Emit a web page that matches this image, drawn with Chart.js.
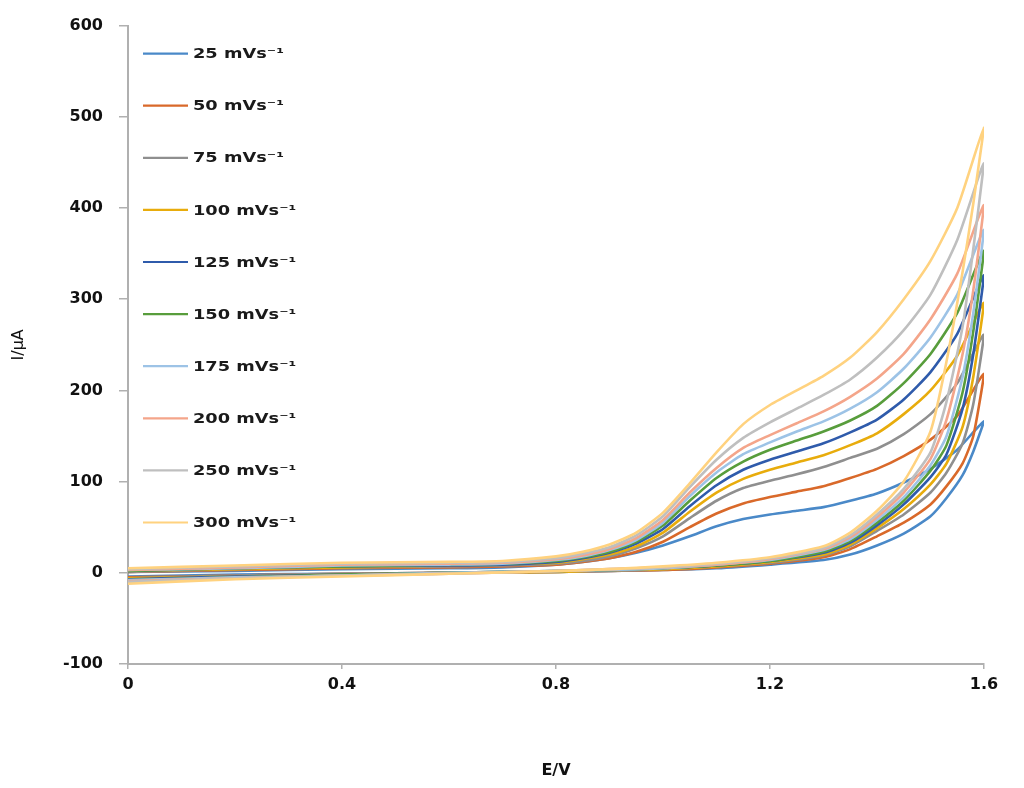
<!DOCTYPE html>
<html><head><meta charset="utf-8">
<script src="https://cdn.jsdelivr.net/npm/chart.js@4.4.1/dist/chart.umd.min.js"></script>
<style>html,body{margin:0;padding:0;background:#fff;} #wrap{width:1024px;height:788px;position:relative;}</style>
</head><body><div id="wrap"><canvas id="c"></canvas></div>
<script>
// ---- data ----
const scanRates = ['25 mVs\u207B\u00B9','50 mVs\u207B\u00B9','75 mVs\u207B\u00B9','100 mVs\u207B\u00B9','125 mVs\u207B\u00B9','150 mVs\u207B\u00B9','175 mVs\u207B\u00B9','200 mVs\u207B\u00B9','250 mVs\u207B\u00B9','300 mVs\u207B\u00B9'];
const seriesColors = ['#4a89c8','#d9692a','#8f8f8f','#e8ac0c','#2f5bab','#589d3c','#9dc3e6','#f4a58a','#bfbfbf','#ffd27f'];

// potential (V) of the forward (lower) and reverse (upper) branches
const xFwd = [0,0.2,0.4,0.6,0.8,0.9,1.0,1.1,1.2,1.3,1.35,1.4,1.45,1.5,1.53,1.56,1.58,1.6];
const xRev = [1.6,1.55,1.5,1.45,1.4,1.35,1.3,1.25,1.2,1.15,1.1,1.05,1.0,0.95,0.9,0.85,0.8,0.7,0.6,0.4,0.2,0];

// current (µA), forward branch
const fwd25  = [-4,-2,-1,0,1,2,3,5,9,14,20,30,43,62,82,107,133,166];
const fwd50  = [-5,-3,-1,0,1,2,3,6,10,17,26,40,55,75,95,120,150,218];
const fwd75  = [-6,-3,-1,0,1,2,4,7,11,19,29,46,64,88,110,142,185,261];
const fwd100 = [-6,-4,-2,0,1,3,4,7,12,20,31,49,70,97,120,160,215,296];
const fwd125 = [-7,-4,-2,0,2,3,5,8,13,22,33,52,75,105,130,180,240,326];
const fwd150 = [-8,-5,-2,0,2,3,5,8,13,23,35,55,79,112,140,198,265,353];
const fwd175 = [-8,-5,-3,0,2,3,5,9,14,25,37,58,83,118,150,215,285,376];
const fwd200 = [-9,-6,-3,-1,2,4,6,9,15,26,39,61,88,125,168,240,310,403];
const fwd250 = [-10,-6,-3,-1,2,4,6,10,16,27,41,64,92,132,188,270,355,449];
const fwd300 = [-12,-7,-4,-1,2,4,7,11,17,29,44,68,100,155,232,330,405,488];

// current (µA), reverse branch
const rev25  = [166,135,114,99,87,79,72,68,64,59,51,40,30,22,16,12,9,6,5,4,2,1];
const rev50  = [218,172,146,128,114,104,95,89,83,76,65,50,34,23,16,12,9,7,6,5,3,1];
const rev75  = [261,208,174,152,136,126,116,108,101,93,79,60,40,27,18,13,10,8,7,6,4,1];
const rev100 = [296,238,200,174,153,140,129,121,113,103,88,67,44,29,20,15,11,9,8,6,4,2];
const rev125 = [326,262,220,190,168,154,142,133,124,113,96,73,48,32,22,16,12,9,8,7,5,2];
const rev150 = [353,285,240,208,183,167,155,145,135,122,104,79,52,34,23,17,13,10,9,7,5,2];
const rev175 = [376,305,258,224,198,180,166,155,143,130,110,84,55,36,25,18,14,10,9,8,5,3];
const rev200 = [403,328,278,240,213,193,177,164,151,137,115,88,58,38,26,19,15,11,10,9,6,3];
const rev250 = [449,365,305,266,236,212,195,180,165,148,124,94,62,41,28,21,16,12,11,10,7,4];
const rev300 = [488,400,342,300,264,236,216,200,184,163,132,98,66,44,31,23,18,13,12,11,8,5];

const forwardSets = [fwd25,fwd50,fwd75,fwd100,fwd125,fwd150,fwd175,fwd200,fwd250,fwd300];
const reverseSets = [rev25,rev50,rev75,rev100,rev125,rev150,rev175,rev200,rev250,rev300];

const xTickValues = [0,0.4,0.8,1.2,1.6];
const xTickLabels = ['0','0.4','0.8','1.2','1.6'];
const yTickValues = [-100,0,100,200,300,400,500,600];
const yTickLabels = ['-100','0','100','200','300','400','500','600'];

// ---- build datasets ----
const datasets = scanRates.map((label, i) => {
  const pts = [];
  xFwd.forEach((x, k) => pts.push({x: x, y: forwardSets[i][k]}));
  xRev.forEach((x, k) => { if (k > 0) pts.push({x: x, y: reverseSets[i][k]}); });
  return {
    label: label,
    data: pts,
    showLine: true,
    borderColor: seriesColors[i],
    backgroundColor: seriesColors[i],
    borderWidth: 2.6,
    pointRadius: 0,
    tension: 0.2,
    fill: false,
    order: 10 - i
  };
});

const FONT = '"DejaVu Sans", Verdana, sans-serif';

const insideLegend = {
  id: 'insideLegend',
  afterDraw(chart) {
    const {ctx, chartArea} = chart;
    ctx.save();
    chart.data.datasets.forEach((ds, i) => {
      const y = chartArea.top + 28 + i * 52.1;
      const x0 = chartArea.left + 15;
      ctx.strokeStyle = ds.borderColor;
      ctx.lineWidth = 2.2;
      ctx.beginPath(); ctx.moveTo(x0, y); ctx.lineTo(x0 + 45, y); ctx.stroke();
      ctx.fillStyle = '#1a1a1a';
      ctx.font = 'bold 14px ' + FONT;
      ctx.textBaseline = 'middle';
      ctx.textAlign = 'left';
      ctx.save();
      ctx.translate(x0 + 50, y + 1);
      ctx.scale(1.27, 1);
      ctx.fillText(ds.label, 0, 0);
      ctx.restore();
    });
    ctx.restore();
  }
};

new Chart(document.getElementById('c'), {
  type: 'scatter',
  data: { datasets: datasets },
  plugins: [insideLegend],
  options: {
    responsive: true,
    maintainAspectRatio: false,
    animation: false,
    layout: { padding: { top: 21, right: 40, left: 0, bottom: 0 } },
    plugins: { legend: { display: false }, tooltip: { enabled: false } },
    scales: {
      x: {
        type: 'linear',
        min: 0, max: 1.6,
        afterFit: s => { s.height = 124; },
        afterBuildTicks: s => { s.ticks = xTickValues.map(v => ({value: v})); },
        ticks: {
          callback: (v, idx) => xTickLabels[idx],
          font: { family: FONT, size: 16, weight: 'bold' },
          color: '#111',
          padding: 6,
          maxRotation: 0
        },
        grid: { drawOnChartArea: false, drawTicks: true, tickLength: 5, color: '#b0b0b0', lineWidth: 1.5 },
        border: { display: true, color: '#b0b0b0', width: 2 },
        title: { display: true, text: 'E/V', color: '#111', font: { family: FONT, size: 16, weight: 'bold' }, padding: { top: 0, bottom: 8 } }
      },
      y: {
        type: 'linear',
        min: -100, max: 600,
        afterFit: s => { s.width = 128; },
        afterBuildTicks: s => { s.ticks = yTickValues.map(v => ({value: v})); },
        ticks: {
          callback: (v, idx) => yTickLabels[idx],
          font: { family: FONT, size: 16, weight: 'bold' },
          color: '#111',
          padding: 16
        },
        grid: { drawOnChartArea: false, drawTicks: true, tickLength: 9, color: '#b0b0b0', lineWidth: 1.5 },
        border: { display: true, color: '#b0b0b0', width: 2 },
        title: { display: true, text: 'I/\u03BCA', color: '#111', font: { family: FONT, size: 16, weight: 'normal' }, padding: { top: 9, bottom: 0 } }
      }
    }
  }
});
</script>
</body></html>
